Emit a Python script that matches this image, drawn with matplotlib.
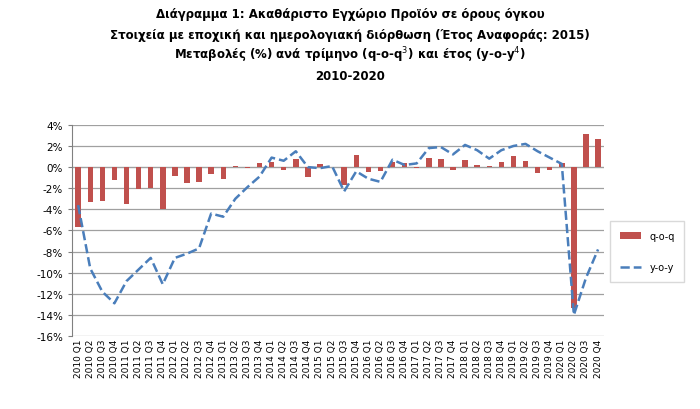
import matplotlib.pyplot as plt
import numpy as np

years = range(2010, 2021)
labels = ['%d Q%d' % (y, q) for y in years for q in range(1, 5)]

qoq = [-5.7, -3.35, -3.2, -1.25, -3.5, -2.1, -1.95, -4.0, -0.85, -1.55, -1.4, -0.7,
       -1.1, 0.1, -0.05, 0.4, 0.45, -0.3, 0.75, -0.95, 0.3, 0.0,
       -1.7, 1.1, -0.5, -0.4, 0.5, 0.35, -0.1, 0.85, 0.8, -0.3, 0.65, 0.2,
       0.1, 0.45, 1.05, 0.55, -0.6, -0.25, 0.4, -13.3, 3.1, 2.65]
yoy = [-3.6, -9.6, -11.8, -12.9, -10.8, -9.7, -8.6, -11.1, -8.6, -8.2, -7.7, -4.4,
       -4.7, -3.0, -1.9, -0.9, 0.9, 0.6, 1.5, 0.0, -0.1, 0.1,
       -2.3, -0.4, -1.1, -1.4, 0.7, 0.2, 0.35, 1.8, 1.9, 1.2, 2.1, 1.6,
       0.8, 1.6, 2.0, 2.2, 1.5, 0.9, 0.3, -14.0, -10.5, -7.8]
yticks = [4, 2, 0, -2, -4, -6, -8, -10, -12, -14, -16]

fig = plt.figure(figsize=(7, 4.1), dpi=100)
ax = fig.add_axes([0.103, 0.178, 0.76, 0.515])
x = np.arange(len(labels))
bars = ax.bar(x, qoq, width=0.45, color='#c0504d', label='q-o-q', zorder=2)
line, = ax.plot(x, yoy, color='#4a7ebb', linestyle='--', linewidth=1.8, label='y-o-y', zorder=3)

ax.set_xlim(-0.5, len(labels) - 0.5)
ax.set_ylim(-16, 4)
ax.set_yticks(yticks)
ax.set_yticklabels(['%d%%' % v for v in yticks], fontsize=7.5)
ax.set_xticks(x)
ax.set_xticklabels(labels, rotation=90, fontsize=6.5)
ax.grid(axis='y', color='#a0a0a0', linewidth=0.9, zorder=0)
ax.axhline(0, color='#808080', linewidth=0.8, zorder=1)
for s in ['top', 'right']:
    ax.spines[s].set_visible(False)
ax.spines['left'].set_color('#808080')
ax.spines['bottom'].set_visible(False)
ax.tick_params(axis='y', length=3, color='#808080')
ax.tick_params(axis='x', length=0, pad=2)

fig.legend([bars, line], ['q-o-q', 'y-o-y'], loc='upper left', bbox_to_anchor=(0.865, 0.47),
           fontsize=7, frameon=True, edgecolor='#d0d0d0', fancybox=False, handlelength=2.2,
           labelspacing=2.2, borderpad=1.0)

fig.text(0.5, 0.955, 'Διάγραμμα 1: Ακαθάριστο Εγχώριο Προϊόν σε όρους όγκου', ha='center',
         fontsize=8.5, fontweight='bold')
fig.text(0.5, 0.905, 'Στοιχεία με εποχική και ημερολογιακή διόρθωση (Έτος Αναφοράς: 2015)', ha='center',
         fontsize=8.5, fontweight='bold')
fig.text(0.5, 0.855, 'Μεταβολές (%) ανά τρίμηνο (q-o-q$^3$) και έτος (y-o-y$^4$)', ha='center',
         fontsize=8.5, fontweight='bold')
fig.text(0.5, 0.805, '2010-2020', ha='center', fontsize=8.5, fontweight='bold')

plt.savefig('out.png', dpi=100)
